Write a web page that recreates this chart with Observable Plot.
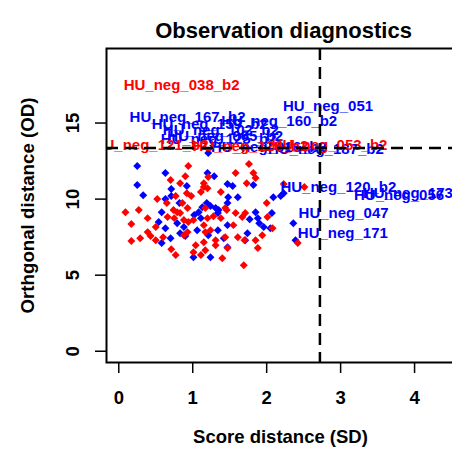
<!DOCTYPE html>
<html>
<head>
<meta charset="utf-8">
<script src="https://cdn.jsdelivr.net/npm/d3@7"></script>
<script src="https://cdn.jsdelivr.net/npm/@observablehq/plot@0.6"></script>
<style>
html, body { margin: 0; padding: 0; overflow: hidden; background: white; }
svg { display: block; }
</style>
</head>
<body>
<div id="chart"></div>
<script>
const title = "Observation diagnostics";
const xLabel = "Score distance (SD)";
const yLabel = "Orthgonal distance (OD)";
const xTicks = [0, 1, 2, 3, 4];
const yTicks = [0, 5, 10, 15];
const sdLimit = 2.72;
const odLimit = 13.36;

// blue group (regular points)
const blueSD = [0.25,0.63,1.20,1.29,0.25,0.71,0.92,1.47,1.54,1.82,0.33,0.63,0.71,0.82,1.19,1.13,1.24,1.31,1.35,1.47,1.48,0.58,1.08,1.02,1.11,1.34,1.85,1.88,2.07,2.09,2.19,2.23,0.54,0.79,0.88,1.06,1.34,1.47,1.77,1.90,1.96,0.58,0.70,0.90,1.42,1.74,1.47,1.01,1.24,2.36,2.39,1.21,0.63,0.83,1.21,1.71,2.05,1.61];
const blueOD = [12.17,11.71,11.71,11.51,10.92,10.66,10.86,10.99,10.86,10.92,10.26,10.00,10.20,9.74,9.74,9.47,9.54,9.41,9.28,9.74,10.13,9.14,9.14,8.95,8.75,9.08,9.14,8.75,9.08,10.13,10.20,10.39,8.49,8.42,8.16,7.96,7.96,8.29,8.68,8.42,8.16,7.11,7.43,7.57,7.43,7.76,6.84,6.18,6.18,8.42,7.30,13.03,8.09,7.76,7.63,7.30,8.09,10.13];

// red group (regular points)
const redSD = [0.94,1.76,0.70,0.90,1.21,1.58,1.82,1.85,1.73,1.15,1.20,0.92,0.98,1.11,0.52,0.65,0.77,1.38,1.46,0.09,0.27,0.17,0.39,0.50,0.66,0.74,0.83,0.75,0.88,0.94,1.01,1.15,1.24,1.17,0.29,0.17,0.43,0.50,0.60,0.93,1.28,1.38,1.58,1.71,1.55,1.61,1.70,1.85,2.00,2.01,2.08,0.71,0.77,1.01,1.17,1.40,1.15,1.31,1.69,1.31,2.42,2.51,2.23,0.39,0.79,0.93,1.20,0.88,1.04,1.11,1.44,1.67,1.44,1.47,1.88,1.94,1.17,0.83,0.86,1.15];
const redOD = [12.17,12.30,11.25,11.51,11.45,11.71,11.71,11.38,11.05,11.05,10.72,10.39,10.20,10.46,10.00,9.74,10.20,10.46,9.28,9.14,9.28,8.36,7.83,8.16,8.82,9.28,9.08,8.75,8.62,8.49,8.62,8.29,7.96,7.83,7.43,7.24,7.57,7.30,7.50,7.83,8.88,8.75,9.08,9.08,8.29,7.50,7.30,7.30,9.74,8.82,8.09,6.71,6.32,6.51,6.64,6.12,7.17,7.30,5.66,6.97,7.11,10.79,10.99,8.75,9.14,9.41,8.75,7.63,6.97,6.32,9.41,8.82,7.50,6.78,6.78,7.63,9.41,11.05,9.74,10.79];

// outliers, drawn as labels
const outNames = ["HU_neg_051","HU_neg_167_b2","HU_neg_160_b2","HU_neg_159_b2","HU_neg_102_b2","HU_neg_065_b2","HU_neg_125_b2","HU_neg_016_b2","HU_neg_187_b2","HU_neg_120_b2","HU_neg_056","HU_neg_173","HU_neg_047","HU_neg_171","HU_neg_038_b2","HU_neg_121_b2","HU_neg_053_b2","HU_neg_126_b2"];
const outSD = [2.83,0.93,2.17,1.23,1.38,1.44,1.35,2.03,2.80,2.97,3.79,3.91,3.04,3.03,0.85,0.43,2.85,1.78];
const outOD = [16.12,15.39,15.13,14.93,14.54,14.14,13.95,13.42,13.29,10.79,10.26,10.39,9.08,7.76,17.50,13.55,13.55,13.49];
const outGroup = ["blue","blue","blue","blue","blue","blue","blue","blue","blue","blue","blue","blue","blue","blue","red","red","red","red"];

const groupColor = {blue: "#0000FF", red: "#FF0000"};

const pts = [
  ...blueSD.map((v, i) => ({sd: v, od: blueOD[i], g: "blue"})),
  ...redSD.map((v, i) => ({sd: v, od: redOD[i], g: "red"}))
];
const outs = outNames.map((n, i) => ({name: n, sd: outSD[i], od: outOD[i], g: outGroup[i]}));

const font = "'Liberation Sans', Arial, Helvetica, sans-serif";

const chart = Plot.plot({
  width: 452,
  height: 452,
  marginLeft: 106,
  marginRight: -2,
  marginTop: 48,
  marginBottom: 90,
  style: {fontFamily: font, background: "white", overflow: "hidden"},
  x: {domain: [-0.166, 4.54], axis: null},
  y: {domain: [-0.74, 19.9], axis: null},
  marks: [
    Plot.dot(pts, {x: "sd", y: "od", symbol: "diamond2", r: 3.6, fill: d => groupColor[d.g], stroke: "none"}),
    Plot.text(outs, {x: "sd", y: "od", text: "name", fill: d => groupColor[d.g], fontSize: 15, fontWeight: "bold", clip: true}),
    Plot.ruleX([sdLimit], {stroke: "black", strokeWidth: 2.5, strokeDasharray: "12,7"}),
    Plot.ruleY([odLimit], {stroke: "black", strokeWidth: 2.5, strokeDasharray: "12,7"}),
    Plot.frame({stroke: "black", strokeWidth: 2}),
    Plot.axisX({ticks: xTicks, tickSize: 11, tickPadding: 17, fontSize: 18.5, fontWeight: "bold", strokeWidth: 1.5, label: null, tickFormat: d => String(d)}),
    Plot.axisY({ticks: yTicks, tickSize: 11, strokeWidth: 1.5, label: null, tickFormat: () => ""}),
    Plot.text(yTicks, {y: d => d, text: d => String(d), frameAnchor: "left", textAnchor: "middle", rotate: -90, dx: -33, fontSize: 18.5, fontWeight: "bold", fill: "black"}),
    Plot.text([yLabel], {text: d => d, frameAnchor: "left", textAnchor: "middle", rotate: -90, dx: -78.5, fontSize: 18.7, fontWeight: "bold", fill: "black"}),
    Plot.text([xLabel], {text: d => d, frameAnchor: "bottom", dy: 80, fontSize: 18.5, fontWeight: "bold", fill: "black"}),
    Plot.text([title], {text: d => d, frameAnchor: "top", dy: -26.5, dx: 3, fontSize: 22, fontWeight: "bold", fill: "black"})
  ]
});
document.getElementById("chart").appendChild(chart);
</script>
</body>
</html>
